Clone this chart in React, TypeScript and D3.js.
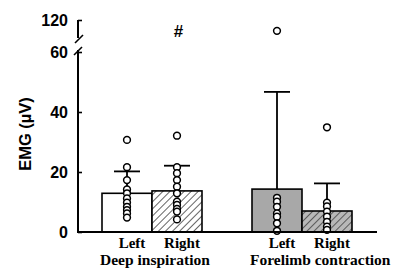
import React, { useEffect, useRef } from "react"
import * as d3 from "d3"

const groups = ["Deep inspiration", "Forelimb contraction"]
const sides = ["Left", "Right"]
// order: Deep-Left, Deep-Right, Forelimb-Left, Forelimb-Right
const means = [12.9, 13.7, 14.3, 7.0]
const errTop = [20.2, 22.1, 46.7, 16.2]
const ptsDeepL = [30.7, 21.6, 17.3, 14.2, 12.9, 11.2, 9.8, 8.4, 7.3, 6.2, 4.8]
const ptsDeepR = [32.1, 21.6, 19.6, 17.3, 15.1, 12.9, 10.1, 9.0, 7.7, 6.8, 4.2]
const ptsForeL = [95, 11.4, 10.1, 8.4, 6.2, 5.1, 2.9, 0.4]
const ptsForeR = [34.9, 9.8, 8.5, 6.8, 5.1, 3.4, 1.8, 0.7]
const lowTicks = [0, 20, 40, 60]
const highTicks = [120]

const App = () => {
  const ref = useRef<SVGSVGElement>(null)

  useEffect(() => {
    const svg = d3.select(ref.current)
    svg.selectAll("*").remove()

    const sans = "'Liberation Sans', Arial, sans-serif"
    const serif = "'Liberation Serif', 'Times New Roman', serif"

    const yLow = d3.scaleLinear().domain([0, 60]).range([232, 52])
    const yHigh = d3.scaleLinear().domain([60, 120]).range([46, 20])
    const y = (v: number) => (v <= 60 ? yLow(v) : yHigh(v))

    const xGroup = d3.scaleBand().domain(groups).range([77, 377]).paddingInner(1 / 3).paddingOuter(1 / 6)
    const xSide = d3.scaleBand().domain(sides).range([0, xGroup.bandwidth()])

    const bars = [
      { g: groups[0], s: sides[0], mean: means[0], err: errTop[0], pts: ptsDeepL, fill: "#fff", hatch: "" },
      { g: groups[0], s: sides[1], mean: means[1], err: errTop[1], pts: ptsDeepR, fill: "#fff", hatch: "url(#hatchW)" },
      { g: groups[1], s: sides[0], mean: means[2], err: errTop[2], pts: ptsForeL, fill: "#a8a8a8", hatch: "" },
      { g: groups[1], s: sides[1], mean: means[3], err: errTop[3], pts: ptsForeR, fill: "#b8b8b8", hatch: "url(#hatchG)" }
    ]

    const defs = svg.append("defs")
    const mk = (id: string, bg: string, fg: string) => {
      const p = defs.append("pattern").attr("id", id).attr("patternUnits", "userSpaceOnUse")
        .attr("width", 5).attr("height", 5).attr("patternTransform", "rotate(45)")
      p.append("rect").attr("width", 5).attr("height", 5).attr("fill", bg)
      p.append("line").attr("x1", 0).attr("y1", 0).attr("x2", 0).attr("y2", 5)
        .attr("stroke", fg).attr("stroke-width", 1.4)
    }
    mk("hatchW", "#fff", "#222")
    mk("hatchG", "#b8b8b8", "#333")

    const bx = (d: any) => (xGroup(d.g) as number) + (xSide(d.s) as number)
    const bw = xSide.bandwidth()

    // bars
    svg.selectAll("rect.bar").data(bars).join("rect").attr("class", "bar")
      .attr("x", bx).attr("width", bw)
      .attr("y", d => y(d.mean)).attr("height", d => y(0) - y(d.mean))
      .attr("fill", d => d.hatch || d.fill)
      .attr("stroke", "#000").attr("stroke-width", 1.6)

    // error bars
    const eg = svg.append("g").attr("stroke", "#000").attr("stroke-width", 1.8)
    bars.forEach(d => {
      const cx = bx(d) + bw / 2
      eg.append("line").attr("x1", cx).attr("x2", cx).attr("y1", y(d.mean)).attr("y2", y(d.err))
      eg.append("line").attr("x1", cx - 13).attr("x2", cx + 13).attr("y1", y(d.err)).attr("y2", y(d.err))
    })

    // points
    bars.forEach(d => {
      const cx = bx(d) + bw / 2
      svg.append("g").selectAll("circle").data(d.pts).join("circle")
        .attr("cx", cx).attr("cy", v => y(v)).attr("r", 3.4)
        .attr("fill", "#fff").attr("stroke", "#000").attr("stroke-width", 1.5)
    })

    // x axis line
    svg.append("line").attr("x1", 77).attr("x2", 377).attr("y1", 232).attr("y2", 232)
      .attr("stroke", "#000").attr("stroke-width", 2)

    // y axis (broken)
    const styleAxis = (g: any) => {
      g.select(".domain").remove()
      g.selectAll(".tick line").attr("stroke", "#000").attr("stroke-width", 1.6)
      g.selectAll(".tick text").attr("font-family", sans).attr("font-weight", "bold")
        .attr("font-size", 16).attr("fill", "#000")
    }
    svg.append("g").attr("transform", "translate(78,0)")
      .call(d3.axisLeft(yLow).tickValues(lowTicks).tickSize(-4).tickPadding(10).tickFormat(d3.format("d")))
      .call(styleAxis)
    svg.append("g").attr("transform", "translate(78,0)")
      .call(d3.axisLeft(yHigh).tickValues(highTicks).tickSize(-4).tickPadding(10).tickFormat(d3.format("d")))
      .call(styleAxis)

    const ax = svg.append("g").attr("stroke", "#000").attr("stroke-width", 2).attr("fill", "none")
    ax.append("line").attr("x1", 78).attr("x2", 78).attr("y1", yHigh(120)).attr("y2", 38)
    ax.append("line").attr("x1", 78).attr("x2", 78).attr("y1", 50).attr("y2", 232)
    ax.append("line").attr("x1", 75).attr("x2", 83).attr("y1", 43).attr("y2", 35).attr("stroke-width", 1.6)
    ax.append("line").attr("x1", 74).attr("x2", 82).attr("y1", 55).attr("y2", 47).attr("stroke-width", 1.6)

    // y label
    svg.append("text").attr("transform", "translate(31,134) rotate(-90)")
      .attr("text-anchor", "middle").attr("font-family", sans).attr("font-weight", "bold")
      .attr("font-size", 16.5).text("EMG (\u00b5V)")

    // significance mark
    svg.append("text").attr("x", 178.5).attr("y", 37).attr("text-anchor", "middle")
      .attr("font-family", sans).attr("font-weight", "bold").attr("font-size", 17).text("#")

    // side labels
    svg.selectAll("text.side").data(bars).join("text").attr("class", "side")
      .attr("x", d => bx(d) + bw / 2 + 5).attr("y", 248).attr("text-anchor", "middle")
      .attr("font-family", serif).attr("font-weight", "bold").attr("font-size", 15)
      .text(d => d.s)

    // group labels
    svg.selectAll("text.grp").data(groups).join("text").attr("class", "grp")
      .attr("x", d => (xGroup(d) as number) - 2).attr("y", 265)
      .attr("font-family", serif).attr("font-weight", "bold").attr("font-size", 15.5)
      .text(d => d)
  }, [])

  return (
    <div style={{ position: "absolute", left: 0, top: 0 }}>
      <svg ref={ref} width={396} height={270} style={{ display: "block", background: "#fff" }} />
    </div>
  )
}

export default App
